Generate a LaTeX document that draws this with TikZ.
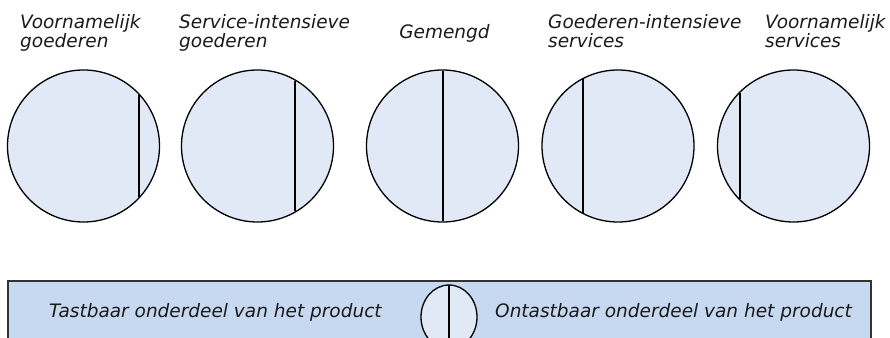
\documentclass[tikz,border=0pt]{standalone}
\usepackage{fontspec}
\setmainfont{DejaVu Sans}
\usetikzlibrary{shapes.geometric}
\definecolor{circfill}{HTML}{E1E8F6}
\definecolor{barfill}{HTML}{C6D9F0}
\definecolor{txt}{HTML}{1A1A1A}
\definecolor{barline}{HTML}{333333}
\newcommand\chordline[2]{\draw[divider] ([xshift=#2pt,yshift={sqrt(75.4^2-(#2)^2)*1pt}]#1.center) -- ([xshift=#2pt,yshift={-sqrt(75.4^2-(#2)^2)*1pt}]#1.center);}
\begin{document}
\begin{tikzpicture}[x=1pt,y=-1pt,
  lbl/.style={anchor=base west, inner sep=0, font=\fontsize{18.5}{20}\selectfont\itshape, text=txt},
  barlbl/.style={lbl, font=\fontsize{18.5}{20}\selectfont\itshape},
  disc/.style={circle, draw=black, line width=1.3pt, fill=circfill, minimum size=152pt, inner sep=0, outer sep=0},
  divider/.style={line width=1.5pt, draw=black}]
\useasboundingbox (0,0) rectangle (890,337);
\clip (0,0) rectangle (890,337);
% labels
\node[lbl] (l1a) at (20,29) {Voornamelijk};
\node[lbl] (l1b) at (20,48) {goederen};
\node[lbl] (l2a) at (179,29) {Service-intensieve};
\node[lbl] (l2b) at (179,48) {goederen};
\node[lbl,anchor=base] (l3) at (444.5,39) {Gemengd};
\node[lbl] (l4a) at (548,29) {Goederen-intensieve};
\node[lbl] (l4b) at (548,48) {services};
\node[lbl] (l5a) at (765,29) {Voornamelijk};
\node[lbl] (l5b) at (765,48) {services};
% circles
\node[disc] (c1) at (83.5,146) {};
\node[disc] (c2) at (257.5,146) {};
\node[disc] (c3) at (442.5,146) {};
\node[disc] (c4) at (618,146) {};
\node[disc] (c5) at (793.5,146) {};
\chordline{c1}{55.5}
\chordline{c2}{37.5}
\chordline{c3}{0.5}
\chordline{c4}{-35}
\chordline{c5}{-53.5}
% bottom bar
\node[draw=barline, line width=1.4pt, fill=barfill, anchor=north west, minimum width=863pt, minimum height=80pt, inner sep=0, outer sep=0] (bar) at (8,281) {};
\node[ellipse, draw=black, line width=1.3pt, fill=circfill, minimum width=56pt, minimum height=64pt, inner sep=0, outer sep=0] (e) at (449,317) {};
\draw[divider] (e.north) -- (e.south);
\node[barlbl] (t1) at (49,317) {Tastbaar onderdeel van het product};
\node[barlbl] (t2) at (495,317) {Ontastbaar onderdeel van het product};
\end{tikzpicture}
\end{document}
